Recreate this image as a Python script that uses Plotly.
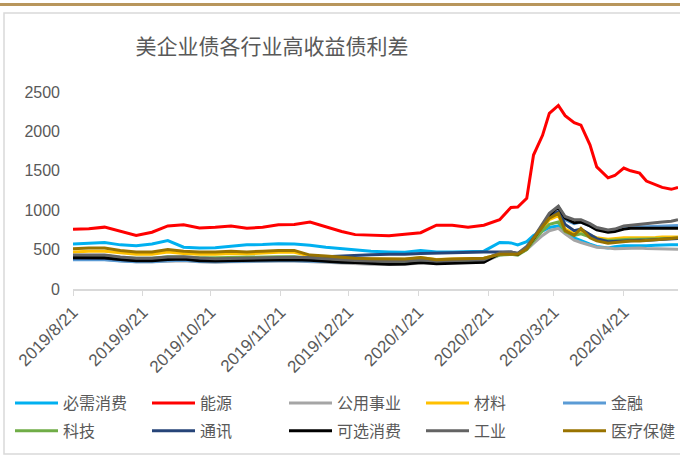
import plotly.graph_objects as go

# 日期（周度，3-4月加密）
dates = [
    "2019-08-21", "2019-08-28", "2019-09-04", "2019-09-11", "2019-09-18", "2019-09-25",
    "2019-10-02", "2019-10-09", "2019-10-16", "2019-10-23", "2019-10-30",
    "2019-11-06", "2019-11-13", "2019-11-20", "2019-11-27",
    "2019-12-04", "2019-12-11", "2019-12-18", "2019-12-24", "2019-12-31",
    "2020-01-08", "2020-01-15", "2020-01-22", "2020-01-29",
    "2020-02-05", "2020-02-12", "2020-02-19", "2020-02-26",
    "2020-03-02", "2020-03-05", "2020-03-09", "2020-03-12", "2020-03-16", "2020-03-19",
    "2020-03-23", "2020-03-26", "2020-03-30",
    "2020-04-02", "2020-04-06", "2020-04-09", "2020-04-14", "2020-04-17", "2020-04-21",
    "2020-04-24", "2020-04-28",
    "2020-05-01", "2020-05-05", "2020-05-08", "2020-05-12", "2020-05-15",
]

staples = [570, 580, 590, 560, 550, 570, 615, 530, 520, 525, 545, 560, 565, 575, 570,
           555, 530, 510, 500, 480, 470, 465, 490, 470, 470, 475, 480, 590,
           585, 560, 600, 680, 740, 780, 800, 720, 650,
           620, 570, 540, 520, 535, 550, 550, 545, 550, 555, 560, 560, 560]
energy = [758, 765, 785, 730, 680, 720, 800, 815, 775, 785, 800, 770, 785, 815, 820,
          850, 790, 730, 690, 685, 675, 695, 715, 810, 810, 785, 810, 880,
          1035, 1040, 1150, 1700, 1950, 2230, 2330, 2200, 2110,
          2080, 1830, 1550, 1410, 1440, 1535, 1500, 1470, 1370, 1320, 1290, 1265, 1290]
utilities = [380, 380, 375, 360, 345, 345, 355, 360, 345, 340, 345, 350, 350, 355, 355,
             350, 340, 330, 320, 315, 310, 315, 330, 330, 335, 340, 345, 430,
             450, 440, 500, 580, 680, 740, 770, 700, 620,
             590, 560, 530, 520, 510, 515, 520, 520, 515, 510, 505, 500, 505]
materials = [470, 480, 480, 460, 440, 440, 470, 450, 440, 440, 450, 445, 455, 465, 465,
             420, 410, 395, 385, 380, 375, 378, 395, 375, 380, 385, 390, 440,
             450, 440, 510, 630, 780, 880, 930, 760, 700,
             740, 680, 650, 630, 640, 650, 650, 650, 650, 655, 660, 660, 660]
financials = [370, 372, 370, 355, 345, 345, 360, 365, 350, 345, 350, 355, 355, 360, 360,
              355, 345, 340, 335, 330, 328, 330, 345, 340, 345, 350, 355, 450,
              460, 445, 520, 640, 800, 920, 980, 880, 830,
              850, 800, 760, 740, 745, 775, 785, 790, 790, 795, 795, 800, 805]
tech = [420, 425, 425, 400, 390, 390, 410, 405, 395, 395, 400, 400, 405, 410, 410,
        390, 380, 370, 360, 355, 350, 352, 370, 355, 360, 365, 370, 430,
        440, 430, 500, 610, 740, 820, 850, 730, 680,
        700, 660, 630, 615, 620, 630, 630, 630, 632, 635, 640, 640, 645]
telecom = [390, 392, 390, 375, 365, 365, 385, 385, 370, 370, 378, 380, 385, 390, 392,
           400, 410, 420, 430, 435, 440, 440, 450, 455, 465, 470, 470, 470,
           470, 450, 520, 640, 800, 920, 980, 820, 740,
           760, 690, 640, 600, 605, 615, 615, 620, 620, 625, 630, 635, 640]
discretionary = [400, 398, 395, 375, 360, 360, 375, 380, 360, 355, 360, 365, 368, 372, 372,
                 365, 350, 340, 335, 325, 315, 318, 335, 322, 330, 335, 340, 450,
                 460, 440, 520, 640, 820, 940, 1040, 900, 840,
                 850, 800, 750, 720, 730, 760, 770, 770, 770, 770, 770, 775, 770]
industrials = [430, 432, 430, 405, 390, 390, 405, 410, 392, 385, 390, 395, 398, 402, 402,
               395, 380, 370, 362, 355, 350, 352, 368, 355, 360, 365, 370, 460,
               470, 450, 540, 650, 830, 960, 1050, 920, 880,
               880, 830, 780, 750, 760, 800, 810, 820, 830, 840, 850, 860, 880]
healthcare = [510, 520, 520, 490, 470, 470, 500, 480, 470, 470, 480, 470, 480, 490, 490,
              430, 420, 400, 390, 385, 380, 380, 400, 370, 380, 385, 390, 440,
              445, 440, 510, 640, 790, 900, 960, 740, 680,
              770, 650, 610, 580, 590, 600, 610, 610, 615, 620, 630, 640, 650]

names = ["必需消费", "能源", "公用事业", "材料", "金融", "科技", "通讯", "可选消费", "工业", "医疗保健"]
series = [staples, energy, utilities, materials, financials, tech, telecom,
          discretionary, industrials, healthcare]
colors = ["#00B0F0", "#FF0000", "#A5A5A5", "#FFC000", "#5B9BD5", "#70AD47", "#264478",
          "#000000", "#636363", "#997300"]

tick_vals = ["2019-08-21", "2019-09-21", "2019-10-21", "2019-11-21", "2019-12-21",
             "2020-01-21", "2020-02-21", "2020-03-21", "2020-04-21"]
tick_text = ["2019/8/21", "2019/9/21", "2019/10/21", "2019/11/21", "2019/12/21",
             "2020/1/21", "2020/2/21", "2020/3/21", "2020/4/21"]

W, H = 680, 458
L, R, T, B = 73, 2, 92, 169
PW, PH = W - L - R, H - T - B


def px_x(x):
    return (x - L) / PW


def px_y(y):
    return (H - B - y) / PH


CJK = "Noto Sans CJK SC"
GREY_TXT = "#595959"
NCOL, COLW = 5, 137

fig = go.Figure()
for i, (n, s, c) in enumerate(zip(names, series, colors)):
    col = i % NCOL
    lg = "legend" if col == 0 else f"legend{col + 1}"
    fig.add_trace(go.Scatter(x=dates, y=s, name=n, mode="lines", legend=lg,
                             legendgroup=n, line=dict(color=c, width=3)))

# 每列一个图例，排成两行五列
legends = {}
for col in range(NCOL):
    key = "legend" if col == 0 else f"legend{col + 1}"
    legends[key] = dict(
        orientation="v", x=px_x(10 + COLW * col), xanchor="left",
        y=px_y(386), yanchor="top", tracegroupgap=4, itemwidth=43,
        font=dict(family=CJK, size=16, color=GREY_TXT),
        bgcolor="rgba(0,0,0,0)",
    )

fig.update_layout(
    width=W, height=H,
    margin=dict(l=L, r=R, t=T, b=B, autoexpand=False),
    paper_bgcolor="white", plot_bgcolor="white",
    title=dict(text="美企业债各行业高收益债利差", x=272 / W, xanchor="center",
               y=1 - 47 / H, yanchor="middle",
               font=dict(family=CJK, size=21, color=GREY_TXT)),
    showlegend=True,
    shapes=[
        dict(type="line", xref="paper", yref="paper", x0=px_x(0), x1=px_x(W),
             y0=px_y(4.5), y1=px_y(4.5), line=dict(color="#B8965C", width=3)),
        dict(type="rect", xref="paper", yref="paper", x0=px_x(4), x1=px_x(W + 20),
             y0=px_y(454), y1=px_y(13), line=dict(color="#D9D9D9", width=1.5)),
    ],
    **legends,
)

fig.update_xaxes(
    type="date", range=["2019-08-21", "2020-05-15"],
    tickvals=tick_vals, ticktext=tick_text, tickangle=-45,
    ticks="outside", ticklen=5, tickcolor="#D9D9D9",
    showline=True, linecolor="#D9D9D9", linewidth=1.5,
    showgrid=False, zeroline=False,
    tickfont=dict(family="Liberation Sans, Arial", size=17, color=GREY_TXT),
)
fig.update_yaxes(
    range=[0, 2500], dtick=500, showgrid=False, zeroline=False, showline=False,
    ticks="", ticklabelstandoff=12,
    tickfont=dict(family="Liberation Sans, Arial", size=16, color=GREY_TXT),
)

# 去掉页面默认边距，让图表贴齐窗口左上角
fig.write_html("out.html", config={"displayModeBar": False},
               post_script="document.body.style.margin='0';")
